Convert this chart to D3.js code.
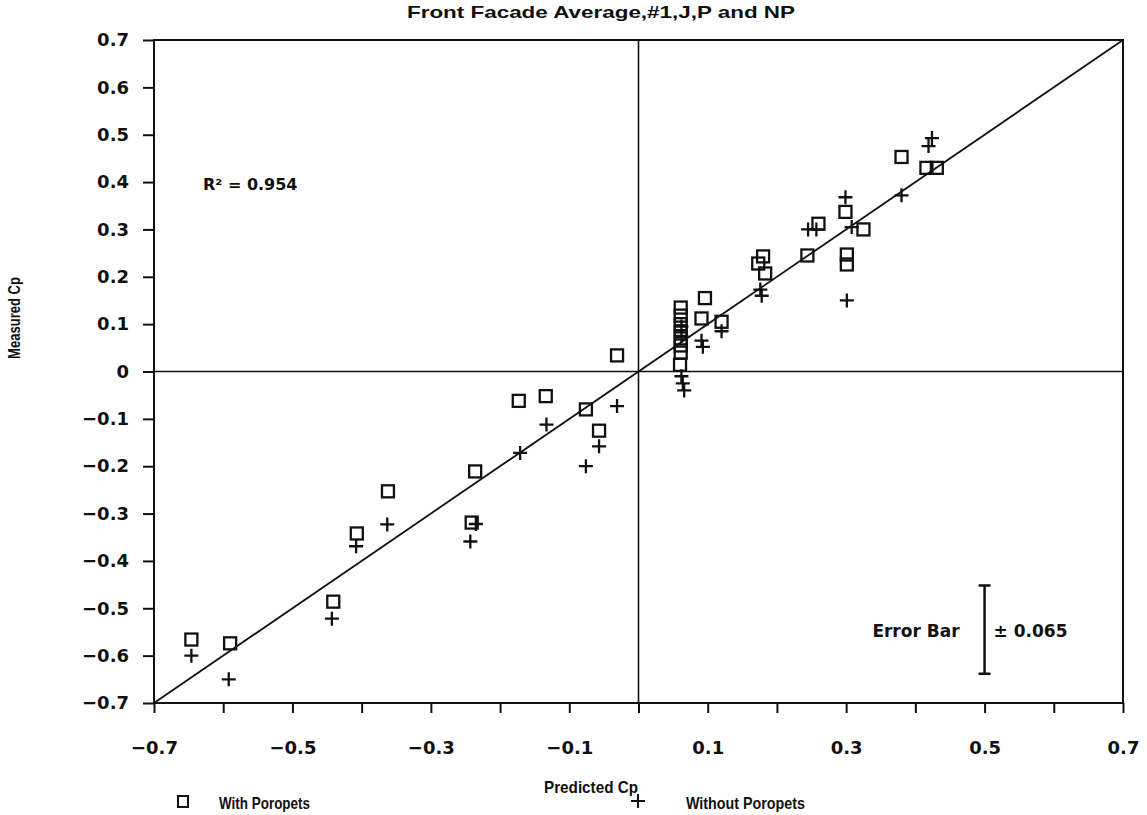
<!DOCTYPE html>
<html>
<head>
<meta charset="utf-8">
<script src="https://cdn.jsdelivr.net/npm/d3@7"></script>
<style>
  body { margin: 0; background: #fff; }
  text { font-family: "DejaVu Sans", "Liberation Sans", Arial, sans-serif; font-weight: bold; fill: #111; }
  .lab { font-family: "Liberation Sans", Arial, sans-serif; }
</style>
</head>
<body>
<script>
// Predicted vs measured Cp, front facade average

var withParapets = [
  [-0.646, -0.566], [-0.590, -0.574], [-0.441, -0.486], [-0.407, -0.342],
  [-0.362, -0.253], [-0.241, -0.319], [-0.236, -0.211], [-0.173, -0.062],
  [-0.134, -0.052], [-0.076, -0.080], [-0.057, -0.125], [-0.031, 0.034],
  [0.060, 0.014], [0.061, 0.040], [0.061, 0.055], [0.061, 0.070],
  [0.061, 0.085], [0.061, 0.100], [0.061, 0.118], [0.061, 0.135],
  [0.091, 0.112], [0.096, 0.155], [0.120, 0.105], [0.173, 0.228],
  [0.180, 0.243], [0.183, 0.207], [0.244, 0.245], [0.260, 0.312],
  [0.299, 0.337], [0.301, 0.247], [0.301, 0.226], [0.325, 0.300],
  [0.380, 0.453], [0.416, 0.430], [0.431, 0.430]
];

var withoutParapets = [
  [-0.646, -0.600], [-0.592, -0.650], [-0.443, -0.522], [-0.408, -0.369],
  [-0.363, -0.323], [-0.235, -0.322], [-0.243, -0.359], [-0.171, -0.172],
  [-0.133, -0.112], [-0.076, -0.200], [-0.057, -0.158], [-0.031, -0.073],
  [0.062, 0.075], [0.062, 0.095], [0.062, -0.010], [0.064, -0.025],
  [0.066, -0.040], [0.091, 0.065], [0.093, 0.052], [0.120, 0.085],
  [0.176, 0.173], [0.178, 0.160], [0.245, 0.300], [0.257, 0.300],
  [0.299, 0.368], [0.308, 0.305], [0.301, 0.150], [0.380, 0.372],
  [0.419, 0.476], [0.424, 0.493]
];

var tickValues = d3.range(-7, 8).map(function (i) { return i / 10; });
var xLabelValues = [-0.7, -0.5, -0.3, -0.1, 0.1, 0.3, 0.5, 0.7];
var fitLine = [[-0.7, -0.7], [0.7, 0.7]];
var errorBar = { x: 0.50, y: -0.545, half: 0.093, label: "\u00b1 0.065" };
var r2Label = "R\u00b2 = 0.954";

var svg = d3.select('body')
  .append('svg')
  .attr('width', 1147)
  .attr('height', 815);

var x = d3.scaleLinear().domain([-0.7, 0.7]).range([154, 1123]);
var y = d3.scaleLinear().domain([-0.7, 0.7]).range([703, 40]);

var fmt = d3.format('.1f');
function label(d) {
  return Math.abs(d) < 1e-9 ? '0' : fmt(d);
}

// axes
var yAxis = svg.append('g')
  .attr('transform', 'translate(154,0)')
  .call(d3.axisLeft(y).tickValues(tickValues).tickSize(11).tickPadding(14).tickFormat(label));

var xAxis = svg.append('g')
  .attr('transform', 'translate(0,703)')
  .call(d3.axisBottom(x).tickValues(tickValues).tickSize(10).tickPadding(28)
    .tickFormat(function (d) {
      return xLabelValues.some(function (v) { return Math.abs(v - d) < 1e-9; }) ? label(d) : '';
    }));

[xAxis, yAxis].forEach(function (g) {
  g.select('.domain').remove();
  g.selectAll('line').attr('stroke', '#111').attr('stroke-width', 2);
  g.selectAll('text').style('font-size', '18px').style('font-family', '"DejaVu Sans", sans-serif')
    .style('font-weight', 'bold').attr('fill', '#111');
});

// frame
svg.append('rect')
  .attr('x', x(-0.7)).attr('y', y(0.7))
  .attr('width', x(0.7) - x(-0.7)).attr('height', y(-0.7) - y(0.7))
  .attr('fill', 'none').attr('stroke', '#111').attr('stroke-width', 2);

// zero lines
svg.append('line')
  .attr('x1', x(0)).attr('x2', x(0)).attr('y1', y(0.7)).attr('y2', y(-0.7))
  .attr('stroke', '#111').attr('stroke-width', 1.6);
svg.append('line')
  .attr('x1', x(-0.7)).attr('x2', x(0.7)).attr('y1', y(0)).attr('y2', y(0))
  .attr('stroke', '#111').attr('stroke-width', 1.6);

// y = x line
svg.append('path')
  .datum(fitLine)
  .attr('d', d3.line().x(function (d) { return x(d[0]); }).y(function (d) { return y(d[1]); }))
  .attr('stroke', '#111').attr('stroke-width', 1.8).attr('fill', 'none');

// squares
svg.selectAll('.sq')
  .data(withParapets)
  .enter()
  .append('rect')
  .attr('class', 'sq')
  .attr('x', function (d) { return x(d[0]) - 6; })
  .attr('y', function (d) { return y(d[1]) - 6; })
  .attr('width', 12).attr('height', 12)
  .attr('fill', 'none').attr('stroke', '#111').attr('stroke-width', 2.3);

// plus signs
function plusPath(cx, cy) {
  return 'M' + (cx - 7) + ',' + cy + 'H' + (cx + 7) + 'M' + cx + ',' + (cy - 7) + 'V' + (cy + 7);
}
svg.selectAll('.pl')
  .data(withoutParapets)
  .enter()
  .append('path')
  .attr('class', 'pl')
  .attr('d', function (d) { return plusPath(x(d[0]), y(d[1])); })
  .attr('stroke', '#111').attr('stroke-width', 2.3);

// error bar
var ex = x(errorBar.x);
svg.append('path')
  .attr('d', 'M' + ex + ',' + y(errorBar.y + errorBar.half) + 'V' + y(errorBar.y - errorBar.half) +
    'M' + (ex - 6) + ',' + y(errorBar.y + errorBar.half) + 'H' + (ex + 6) +
    'M' + (ex - 6) + ',' + y(errorBar.y - errorBar.half) + 'H' + (ex + 6))
  .attr('stroke', '#111').attr('stroke-width', 2.5).attr('fill', 'none');
svg.append('text').attr('x', ex - 25).attr('y', y(errorBar.y) + 7)
  .attr('text-anchor', 'end').style('font-size', '17px').text('Error Bar');
svg.append('text').attr('x', ex + 9).attr('y', y(errorBar.y) + 7)
  .style('font-size', '17px').text(errorBar.label);

// R squared
svg.append('text').attr('x', 203).attr('y', 190).style('font-size', '16px').text(r2Label);

// titles
svg.append('text').attr('x', 601).attr('y', 18).attr('text-anchor', 'middle')
  .attr('class', 'lab').attr('textLength', 388).attr('lengthAdjust', 'spacingAndGlyphs')
  .style('font-size', '17px').text('Front Facade Average,#1,J,P and NP');
svg.append('text').attr('x', 591).attr('y', 793).attr('text-anchor', 'middle')
  .attr('class', 'lab').attr('textLength', 94).attr('lengthAdjust', 'spacingAndGlyphs')
  .style('font-size', '17px').text('Predicted Cp');
svg.append('text').attr('transform', 'translate(20,318) rotate(-90)').attr('text-anchor', 'middle')
  .attr('class', 'lab').attr('textLength', 82).attr('lengthAdjust', 'spacingAndGlyphs')
  .style('font-size', '16px').text('Measured Cp');

// legend
svg.append('rect').attr('x', 178).attr('y', 796).attr('width', 10).attr('height', 11)
  .attr('fill', 'none').attr('stroke', '#111').attr('stroke-width', 2);
svg.append('text').attr('x', 219).attr('y', 809).attr('class', 'lab')
  .attr('textLength', 91).attr('lengthAdjust', 'spacingAndGlyphs')
  .style('font-size', '17px').text('With Poropets');
svg.append('path').attr('d', plusPath(638, 801)).attr('stroke', '#111').attr('stroke-width', 2);
svg.append('text').attr('x', 686).attr('y', 809).attr('class', 'lab')
  .attr('textLength', 119).attr('lengthAdjust', 'spacingAndGlyphs')
  .style('font-size', '17px').text('Without Poropets');
</script>
</body>
</html>
